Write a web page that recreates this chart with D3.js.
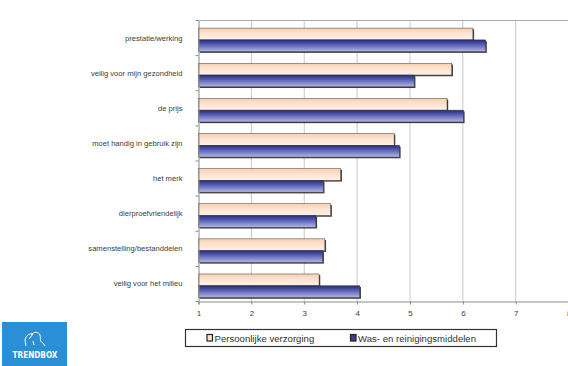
<!DOCTYPE html>
<html>
<head>
<meta charset="utf-8">
<script src="https://cdn.jsdelivr.net/npm/d3@7"></script>
<style>
  html, body { margin: 0; padding: 0; background: #fff; }
  svg { display: block; }
</style>
</head>
<body>
<svg id="chart" width="568" height="366"></svg>
<script>
// Belang van productaspecten (gemiddelde score, schaal 1-8)
const categories = [
  "prestatie/werking",
  "veilig voor mijn gezondheid",
  "de prijs",
  "moet handig in gebruik zijn",
  "het merk",
  "dierproefvriendelijk",
  "samenstelling/bestanddelen",
  "veilig voor het milieu"
];
const seriesNames = ["Persoonlijke verzorging", "Was- en reinigingsmiddelen"];
const persoonlijkeVerzorging = [6.19, 5.79, 5.70, 4.70, 3.69, 3.50, 3.39, 3.28];
const wasReiniging = [6.43, 5.08, 6.01, 4.80, 3.36, 3.22, 3.35, 4.05];
const xTicks = [1, 2, 3, 4, 5, 6, 7, 8];

const svg = d3.select("#chart");
const defs = svg.append("defs");

const peach = defs.append("linearGradient").attr("id", "gPeach")
  .attr("x1", 0).attr("y1", 0).attr("x2", 0).attr("y2", 1);
peach.append("stop").attr("offset", "0%").attr("stop-color", "#f8cfb0");
peach.append("stop").attr("offset", "45%").attr("stop-color", "#fde3d0");
peach.append("stop").attr("offset", "100%").attr("stop-color", "#fff1e6");

const blue = defs.append("linearGradient").attr("id", "gBlue")
  .attr("x1", 0).attr("y1", 0).attr("x2", 0).attr("y2", 1);
blue.append("stop").attr("offset", "0%").attr("stop-color", "#262a7a");
blue.append("stop").attr("offset", "35%").attr("stop-color", "#5159ad");
blue.append("stop").attr("offset", "100%").attr("stop-color", "#b3b8e6");

const plot = { left: 198.5, right: 568.6, top: 20.5, bottom: 301.5 };

const x = d3.scaleLinear().domain([1, 8]).range([plot.left, plot.right]);
const y = d3.scaleBand().domain(categories).range([plot.top, plot.bottom]).padding(0);
const inner = d3.scaleBand().domain(seriesNames)
  .range([7.6, 31.2]).padding(0);

const fills = { [seriesNames[0]]: "url(#gPeach)", [seriesNames[1]]: "url(#gBlue)" };
const values = { [seriesNames[0]]: persoonlijkeVerzorging, [seriesNames[1]]: wasReiniging };

// vertical gridlines
svg.append("g").selectAll("line").data(xTicks.slice(1))
  .join("line")
  .attr("x1", d => x(d)).attr("x2", d => x(d))
  .attr("y1", plot.top).attr("y2", plot.bottom)
  .attr("stroke", "#c9c9c9").attr("stroke-width", 1);

// top border
svg.append("line")
  .attr("x1", plot.left).attr("x2", plot.right)
  .attr("y1", plot.top).attr("y2", plot.top)
  .attr("stroke", "#a8a8a8").attr("stroke-width", 1);

// bars with a small drop shadow
const rows = [];
categories.forEach((c, i) => {
  seriesNames.forEach(s => rows.push({ cat: c, series: s, value: values[s][i] }));
});

const barG = svg.append("g");
barG.selectAll("rect.shadow").data(rows).join("rect")
  .attr("class", "shadow")
  .attr("x", plot.left + 1.2)
  .attr("y", d => y(d.cat) + inner(d.series) + 1.2)
  .attr("width", d => x(d.value) - plot.left)
  .attr("height", inner.bandwidth())
  .attr("fill", "#1d1d1d").attr("opacity", 0.85);

barG.selectAll("rect.bar").data(rows).join("rect")
  .attr("class", "bar")
  .attr("x", plot.left)
  .attr("y", d => y(d.cat) + inner(d.series))
  .attr("width", d => x(d.value) - plot.left)
  .attr("height", inner.bandwidth())
  .attr("fill", d => fills[d.series])
  .attr("stroke", "#3a3a3a").attr("stroke-width", 0.5);

// left axis with category labels
const yAxis = d3.axisLeft(y).tickSize(0).tickPadding(16);
const gy = svg.append("g").attr("transform", `translate(${plot.left},0)`).call(yAxis);
gy.select(".domain").attr("stroke", "#8a8a8a");
gy.selectAll("text")
  .attr("font-family", "Liberation Sans, Arial, sans-serif")
  .attr("font-size", 7.6).attr("fill", "#3c3c3c");
// boundary ticks between categories
svg.append("g").selectAll("line")
  .data(categories.map(c => y(c)).concat([plot.bottom]))
  .join("line")
  .attr("x1", plot.left - 3).attr("x2", plot.left)
  .attr("y1", d => d).attr("y2", d => d)
  .attr("stroke", "#8a8a8a");

// bottom axis
const xAxis = d3.axisBottom(x).tickValues(xTicks).tickSize(3).tickPadding(6)
  .tickFormat(d3.format("d"));
const gx = svg.append("g").attr("transform", `translate(0,${plot.bottom})`).call(xAxis);
gx.select(".domain").attr("stroke", "#8a8a8a");
gx.selectAll(".tick line").attr("stroke", "#8a8a8a");
gx.selectAll("text")
  .attr("font-family", "Liberation Sans, Arial, sans-serif")
  .attr("font-size", 8).attr("fill", "#3c3c3c");

// legend
const legend = svg.append("g");
legend.append("rect")
  .attr("x", 185.5).attr("y", 329.5).attr("width", 311).attr("height", 17)
  .attr("fill", "#fff").attr("stroke", "#333").attr("stroke-width", 1.2);
const legendX = [207, 350.5];
const markerFill = ["#fbe3d2", "#3a3f92"];
seriesNames.forEach((s, i) => {
  legend.append("rect")
    .attr("x", legendX[i]).attr("y", 334.5).attr("width", 5.5).attr("height", 6.5)
    .attr("fill", markerFill[i]).attr("stroke", "#222").attr("stroke-width", 1.2);
  legend.append("text")
    .attr("x", legendX[i] + 7.5).attr("y", 341.5)
    .attr("font-family", "Liberation Sans, Arial, sans-serif")
    .attr("font-size", 9.6).attr("fill", "#333")
    .text(s);
});

// logo block
const logo = svg.append("g");
logo.append("rect").attr("x", 2).attr("y", 322).attr("width", 65).attr("height", 44)
  .attr("fill", "#2a8fd4");
logo.append("path")
  .attr("d", "M26,346 L25,340 C26,335 30,333 33,334 L29,339 M31,335 C34,331 39,332 40,335 C41,339 39,341 43,343 L45,346 M33,341 L34,345")
  .attr("fill", "none").attr("stroke", "#fff").attr("stroke-width", 1);
logo.append("text")
  .attr("x", 35).attr("y", 357.5).attr("text-anchor", "middle")
  .attr("textLength", 45).attr("lengthAdjust", "spacingAndGlyphs")
  .attr("font-family", "DejaVu Sans Condensed, DejaVu Sans, sans-serif")
  .attr("font-weight", "bold").attr("font-size", 8.5).attr("fill", "#fff")
  .text("TRENDBOX");
</script>
</body>
</html>
